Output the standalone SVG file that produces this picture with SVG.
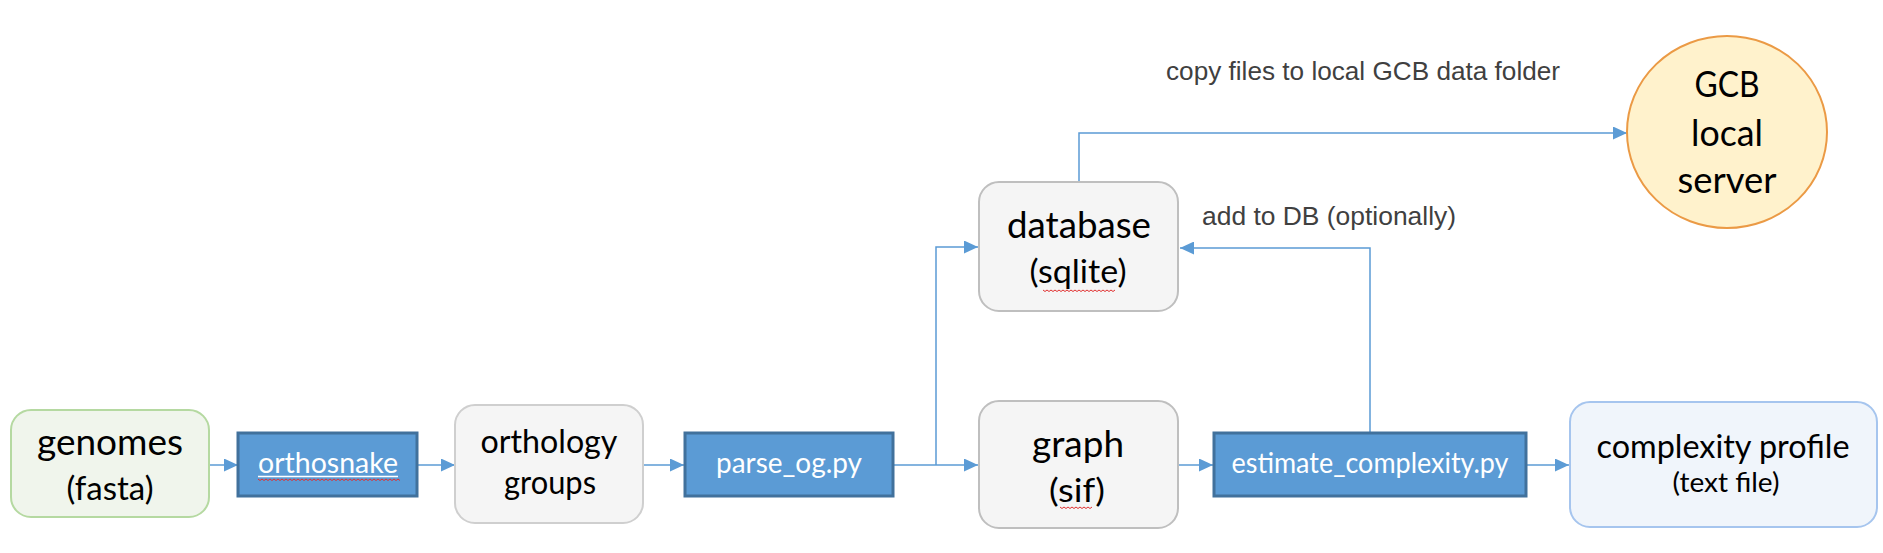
<svg xmlns="http://www.w3.org/2000/svg" width="1883" height="553" viewBox="0 0 1883 553">
<style>
.lbl{font-family:Lato,"Open Sans","Noto Sans",sans-serif;fill:#000;text-anchor:middle}
.big{font-size:36px}
.mid{font-size:32px}
.sm{font-size:27px}
.wt{font-family:Lato,"Open Sans","Noto Sans",sans-serif;font-size:28px;fill:#fff;text-anchor:middle}
.note{font-family:"Liberation Sans",Arial,sans-serif;font-size:25px;fill:#404040}
.proc{fill:#5b9bd5;stroke:#41719c;stroke-width:3}
.data{fill:#f5f5f5;stroke:#bfbfbf;stroke-width:2}
.conn{fill:none;stroke:#5b9bd5;stroke-width:1.5}
.sq{fill:none;stroke:#e03030;stroke-width:1}
</style>
<defs>
<marker id="ah" markerUnits="userSpaceOnUse" markerWidth="14" markerHeight="13" refX="14" refY="6.5" orient="auto">
<path d="M0,0 L14,6.5 L0,13 z" fill="#5b9bd5"/>
</marker>
</defs>
<rect width="1883" height="553" fill="#fff"/>
<g id="connectors">
<line class="conn" x1="209" y1="465" x2="238" y2="465" marker-end="url(#ah)"/>
<line class="conn" x1="417" y1="465" x2="455" y2="465" marker-end="url(#ah)"/>
<line class="conn" x1="643" y1="465" x2="684" y2="465" marker-end="url(#ah)"/>
<line class="conn" x1="893" y1="465" x2="978" y2="465" marker-end="url(#ah)"/>
<polyline class="conn" points="936,465 936,247 978,247" marker-end="url(#ah)"/>
<line class="conn" x1="1178" y1="465" x2="1213" y2="465" marker-end="url(#ah)"/>
<line class="conn" x1="1526" y1="465" x2="1569" y2="465" marker-end="url(#ah)"/>
<polyline class="conn" points="1370,433 1370,248 1180,248" marker-end="url(#ah)"/>
<polyline class="conn" points="1079,182 1079,133 1627,133" marker-end="url(#ah)"/>
</g>
<g id="genomes">
<rect x="11" y="410" width="198" height="107" rx="20" fill="#f0f5ec" stroke="#b5d9a1" stroke-width="2"/>
<text class="lbl big" x="110" y="455" textLength="146" lengthAdjust="spacingAndGlyphs">genomes</text>
<text class="lbl mid" x="110" y="500" textLength="87" lengthAdjust="spacingAndGlyphs">(fasta)</text>
</g>
<g id="orthosnake">
<rect class="proc" x="238" y="433" width="179" height="63"/>
<text class="wt" x="328" y="473" textLength="140" lengthAdjust="spacingAndGlyphs">orthosnake</text>
<line x1="258" y1="476.5" x2="398" y2="476.5" stroke="#fff" stroke-width="1.5"/>
<path class="sq" d="M258,479 l2,1.5 l2,-1.5 l2,1.5 l2,-1.5 l2,1.5 l2,-1.5 l2,1.5 l2,-1.5 l2,1.5 l2,-1.5 l2,1.5 l2,-1.5 l2,1.5 l2,-1.5 l2,1.5 l2,-1.5 l2,1.5 l2,-1.5 l2,1.5 l2,-1.5 l2,1.5 l2,-1.5 l2,1.5 l2,-1.5 l2,1.5 l2,-1.5 l2,1.5 l2,-1.5 l2,1.5 l2,-1.5 l2,1.5 l2,-1.5 l2,1.5 l2,-1.5 l2,1.5 l2,-1.5 l2,1.5 l2,-1.5 l2,1.5 l2,-1.5 l2,1.5 l2,-1.5 l2,1.5 l2,-1.5 l2,1.5 l2,-1.5 l2,1.5 l2,-1.5 l2,1.5 l2,-1.5 l2,1.5 l2,-1.5 l2,1.5 l2,-1.5 l2,1.5 l2,-1.5 l2,1.5 l2,-1.5 l2,1.5 l2,-1.5 l2,1.5 l2,-1.5 l2,1.5 l2,-1.5 l2,1.5 l2,-1.5 l2,1.5 l2,-1.5 l2,1.5 l2,-1.5 l2,1.5"/>
</g>
<g id="orthology-groups">
<rect x="455" y="405" width="188" height="118" rx="20" fill="#f5f5f5" stroke="#cfcfcf" stroke-width="2"/>
<text class="lbl mid" x="549" y="453" textLength="137" lengthAdjust="spacingAndGlyphs">orthology</text>
<text class="lbl mid" x="550" y="494" textLength="92" lengthAdjust="spacingAndGlyphs">groups</text>
</g>
<g id="parse_og">
<rect class="proc" x="685" y="433" width="208" height="63"/>
<text class="wt" x="789" y="473" textLength="146" lengthAdjust="spacingAndGlyphs">parse_og.py</text>
</g>
<g id="database">
<rect class="data" x="979" y="182" width="199" height="129" rx="20"/>
<text class="lbl big" x="1079" y="238" textLength="144" lengthAdjust="spacingAndGlyphs">database</text>
<text class="lbl mid" x="1078" y="283" textLength="97" lengthAdjust="spacingAndGlyphs">(sqlite)</text>
<path class="sq" d="M1043,290 l2,1.5 l2,-1.5 l2,1.5 l2,-1.5 l2,1.5 l2,-1.5 l2,1.5 l2,-1.5 l2,1.5 l2,-1.5 l2,1.5 l2,-1.5 l2,1.5 l2,-1.5 l2,1.5 l2,-1.5 l2,1.5 l2,-1.5 l2,1.5 l2,-1.5 l2,1.5 l2,-1.5 l2,1.5 l2,-1.5 l2,1.5 l2,-1.5 l2,1.5 l2,-1.5 l2,1.5 l2,-1.5 l2,1.5 l2,-1.5 l2,1.5 l2,-1.5 l2,1.5 l2,-1.5"/>
</g>
<g id="graph">
<rect class="data" x="979" y="401" width="199" height="127" rx="20"/>
<text class="lbl big" x="1078" y="457" textLength="92" lengthAdjust="spacingAndGlyphs">graph</text>
<text class="lbl mid" x="1077" y="502" textLength="56" lengthAdjust="spacingAndGlyphs">(sif)</text>
<path class="sq" d="M1060,507 l2,1.5 l2,-1.5 l2,1.5 l2,-1.5 l2,1.5 l2,-1.5 l2,1.5 l2,-1.5 l2,1.5 l2,-1.5 l2,1.5 l2,-1.5 l2,1.5 l2,-1.5 l2,1.5 l2,-1.5"/>
</g>
<g id="estimate_complexity">
<rect class="proc" x="1214" y="433" width="312" height="63"/>
<text class="wt" x="1370" y="473" textLength="277" lengthAdjust="spacingAndGlyphs">estimate_complexity.py</text>
</g>
<g id="complexity-profile">
<rect x="1570" y="402" width="307" height="125" rx="20" fill="#f0f5fb" stroke="#a6c5ee" stroke-width="2"/>
<text class="lbl mid" x="1723" y="458" textLength="253" lengthAdjust="spacingAndGlyphs">complexity profile</text>
<text class="lbl sm" x="1726" y="492" textLength="107" lengthAdjust="spacingAndGlyphs">(text file)</text>
</g>
<g id="gcb-server">
<ellipse cx="1727" cy="132" rx="100" ry="96" fill="#fff2cc" stroke="#eb9a45" stroke-width="2"/>
<text class="lbl big" x="1727" y="97" textLength="65" lengthAdjust="spacingAndGlyphs">GCB</text>
<text class="lbl big" x="1727" y="146" textLength="72" lengthAdjust="spacingAndGlyphs">local</text>
<text class="lbl big" x="1727" y="193" textLength="99" lengthAdjust="spacingAndGlyphs">server</text>
</g>
<g id="labels">
<text class="note" x="1166" y="80" textLength="394" lengthAdjust="spacingAndGlyphs">copy files to local GCB data folder</text>
<text class="note" x="1202" y="225" textLength="254" lengthAdjust="spacingAndGlyphs">add to DB (optionally)</text>
</g>
</svg>
